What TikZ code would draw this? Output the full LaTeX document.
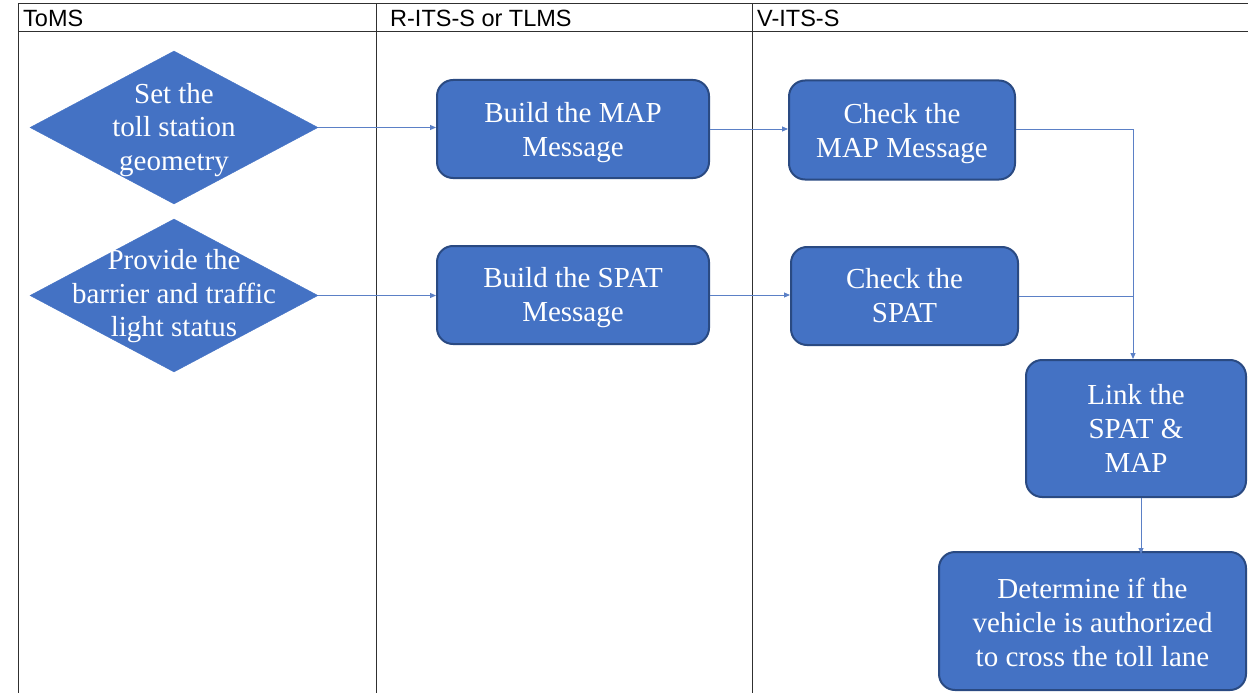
\documentclass[tikz,border=0pt]{standalone}
\usepackage{fontspec}
\setmainfont{Liberation Serif}
\newfontfamily\hdrfont{Liberation Sans}
\usetikzlibrary{shapes.geometric,arrows.meta}
\definecolor{boxfill}{HTML}{4472C4}
\definecolor{boxline}{HTML}{2A4A82}
\definecolor{conn}{HTML}{5B80C6}
\definecolor{grid}{HTML}{303030}
\tikzset{
  gridline/.style={draw=grid, line width=1pt},
  hdr/.style={anchor=base west, inner sep=0pt, font=\hdrfont\fontsize{23.5}{27}\selectfont, text=black},
  diam/.style={shape=diamond, fill=boxfill, draw=boxfill, minimum width=288pt, minimum height=153pt, inner sep=0pt},
  dtext/.style={align=center, text=white, inner sep=0pt, font=\fontsize{29}{33.5}\selectfont},
  procbox/.style={rectangle, rounded corners=16pt, fill=boxfill, draw=boxline, line width=2pt, inner sep=0pt},
  btext/.style={align=center, text=white, inner sep=0pt, font=\fontsize{29}{34}\selectfont},
  conn/.style={draw=conn, line width=1pt},
  arr/.style={conn, -{Triangle[length=6pt,width=5pt]}}
}
\begin{document}
\begin{tikzpicture}[x=1pt,y=-1pt]
\useasboundingbox (0,0) rectangle (1248,693);
% table grid
\coordinate (tl) at (18,4);
\coordinate (tr) at (1248,4);
\coordinate (hl) at (18,32);
\coordinate (hr) at (1248,32);
\coordinate (c1t) at (376,4);
\coordinate (c1b) at (376,693);
\coordinate (c2t) at (752,4);
\coordinate (c2b) at (752,693);
\coordinate (c0b) at (18,693);
\draw[gridline] (tl) -- (tr);
\draw[gridline] (hl) -- (hr);
\draw[gridline] (tl) -- (c0b);
\draw[gridline] (c1t) -- (c1b);
\draw[gridline] (c2t) -- (c2b);
\node[hdr] (h1) at (23,27) {ToMS};
\node[hdr] (h2) at (390,27) {R-ITS-S or TLMS};
\node[hdr] (h3) at (757,27) {V-ITS-S};
% diamonds
\node[diam] (d1) at (174,127.5) {};
\node[dtext] (d1t) at ([yshift=-2.5pt]d1) {Set the\\toll station\\geometry};
\node[diam] (d2) at (174,295.5) {};
\node[dtext] (d2t) at ([yshift=-1pt]d2) {Provide the\\barrier and traffic\\light status};
% boxes
\node[procbox, minimum width=272pt, minimum height=98pt] (bm) at (573,129) {};
\node[btext] (bmt) at ([yshift=-4pt]bm.center) {Build the MAP\\Message};
\node[procbox, minimum width=272pt, minimum height=98pt] (bs) at (573,295) {};
\node[btext] (bst) at ([yshift=-3pt]bs.center) {Build the SPAT\\Message};
\node[procbox, minimum width=226pt, minimum height=99pt] (cm) at (902,130) {};
\node[btext] (cmt) at ([yshift=-4pt]cm.center) {Check the\\MAP Message};
\node[procbox, minimum width=227pt, minimum height=98pt] (cs) at (904.5,296) {};
\node[btext] (cst) at (cs.center) {Check the\\SPAT};
\node[procbox, minimum width=220pt, minimum height=137pt] (lk) at (1136,428.5) {};
\node[btext] (lkt) at (lk.center) {Link the\\SPAT \&\\MAP};
\node[procbox, minimum width=307pt, minimum height=138pt] (dt) at (1092.5,621) {};
\node[btext] (dtt) at ([yshift=-1pt]dt.center) {Determine if the\\vehicle is authorized\\to cross the toll lane};
% connectors
\draw[arr] (d1.east) -- (d1.east -| bm.west);
\draw[arr] (d2.east) -- (d2.east -| bs.west);
\draw[arr] (bm.east) -- (bm.east -| cm.west);
\draw[arr] (bs.east) -- (bs.east -| cs.west);
\coordinate (turn) at (1133,129);
\coordinate (vx) at (1141,0);
\draw[arr] (cm.east |- turn) -- (turn) -- (turn |- lk.north);
\draw[conn] (cs.east) -- (cs.east -| turn);
\draw[arr] (lk.south -| vx) -- ([yshift=-3pt]dt.north -| vx);
\end{tikzpicture}
\end{document}
